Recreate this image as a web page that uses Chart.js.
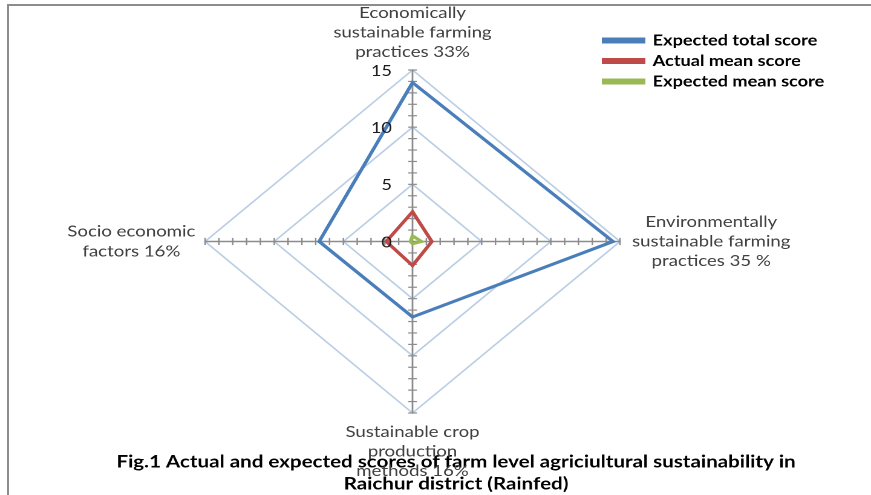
<!DOCTYPE html>
<html>
<head>
<meta charset="utf-8">
<script src="https://cdn.jsdelivr.net/npm/chart.js@4.4.1/dist/chart.umd.min.js"></script>
<style>
  html, body { margin: 0; padding: 0; background: #fff; overflow: hidden; width: 871px; height: 495px; }
  #frame { position: absolute; left: 7px; top: 4px; width: 900px; height: 520px;
           border-top: 2px solid #8c8c8c; border-left: 2px solid #8c8c8c; }
  /* the reference picture is horizontally stretched; reproduce that stretch */
  #stage { position: absolute; left: 0; top: 0; width: 720px; height: 495px;
           transform: scaleX(1.20972); transform-origin: 0 0; }
</style>
</head>
<body>
<div id="frame"></div>
<div id="stage"><canvas id="c"></canvas></div>
<script>
// ---------------- data ----------------
const CATEGORIES = [
  ["Economically", "sustainable farming", "practices 33%"],
  ["Environmentally", "sustainable farming", "practices 35 %"],
  ["Sustainable crop", "production", "methods 16%"],
  ["Socio economic", "factors 16%"]
];
const SERIES_NAMES = ["Expected total score", "Actual mean score", "Expected mean score"];
const EXPECTED_TOTAL = [13.9, 14.5, 6.6, 6.75];
const ACTUAL_MEAN    = [2.6, 1.4, 2.1, 1.9];
const EXPECTED_MEAN  = [0.5, 0.65, 0.2, 0.15];
const TICK_LABELS    = ["0", "5", "10", "15"];
const TITLE_LINES = [
  "Fig.1 Actual and expected scores of farm level agriciultural sustainability in",
  "Raichur district (Rainfed)"
];

// ---------------- layout / style ----------------
const COLORS = ["#4a7ebb", "#be4b48", "#98b954"];
const GEOM = { x: 341, y: 241.5, r: 171.5 };
const MINOR_STEP = 1, TICK_HALF = 3.6;
const LABEL_GAP = { top: 18, right: 10, bottom: 19, left: 8 };
const PL_FONT = "15.4px Lato", PL_LH = 19.6;
const LEGEND_POS = { x: 499, y: 33 };

const decor = {
  id: 'decor',
  afterLayout(chart) {
    const lg = chart.legend;
    if (!lg) return;
    const pad = lg.options.labels.padding;
    const w = lg.right - lg.left, h = lg.bottom - lg.top;
    lg.left = LEGEND_POS.x - pad; lg.right = lg.left + w;
    lg.top = LEGEND_POS.y - pad; lg.bottom = lg.top + h;
  },
  beforeDatasetsDraw(chart) {
    const s = chart.scales.r, ctx = chart.ctx;
    ctx.save();
    ctx.strokeStyle = '#8c8c8c';
    ctx.lineWidth = 1.2;
    const n = chart.data.labels.length;
    for (let i = 0; i < n; i++) {
      const end = s.getPointPosition(i, s.drawingArea);
      const dx = end.x - s.xCenter, dy = end.y - s.yCenter, L = Math.hypot(dx, dy);
      const px = -dy / L * TICK_HALF, py = dx / L * TICK_HALF;
      for (let v = s.min + MINOR_STEP; v <= s.max + 1e-9; v += MINOR_STEP) {
        const p = s.getPointPositionForValue(i, v);
        ctx.beginPath();
        ctx.moveTo(p.x - px, p.y - py);
        ctx.lineTo(p.x + px, p.y + py);
        ctx.stroke();
      }
    }
    ctx.restore();
  },
  afterDatasetsDraw(chart) {
    const s = chart.scales.r, ctx = chart.ctx;
    ctx.save();
    ctx.fillStyle = '#1a1a1a';
    ctx.font = "15px Lato";
    ctx.textAlign = 'right';
    ctx.textBaseline = 'middle';
    s.ticks.forEach((t, k) => {
      const y = s.yCenter - s.getDistanceFromCenterForValue(t.value);
      ctx.fillText(TICK_LABELS[k] ?? String(t.value), s.xCenter - 17, y + 1);
    });
    // category labels
    ctx.font = PL_FONT;
    ctx.fillStyle = '#404040';
    ctx.textAlign = 'center';
    chart.data.labels.forEach((lines, i) => {
      const ang = s.getIndexAngle(i);
      const sn = Math.sin(ang), cs = Math.cos(ang);
      const nL = lines.length;
      const bw = Math.max(...lines.map(l => ctx.measureText(l).width));
      if (Math.abs(sn) < 0.5) {
        if (cs > 0) { // top
          const p = s.getPointPosition(i, s.drawingArea + LABEL_GAP.top);
          lines.forEach((l, k) => ctx.fillText(l, p.x, p.y - (nL - 1 - k) * PL_LH));
        } else { // bottom
          const p = s.getPointPosition(i, s.drawingArea + LABEL_GAP.bottom);
          lines.forEach((l, k) => ctx.fillText(l, p.x, p.y + k * PL_LH));
        }
      } else if (sn > 0) { // right
        const p = s.getPointPosition(i, s.drawingArea + LABEL_GAP.right);
        lines.forEach((l, k) => ctx.fillText(l, p.x + bw / 2, p.y + (k - (nL - 1) / 2) * PL_LH));
      } else { // left
        const p = s.getPointPosition(i, s.drawingArea + LABEL_GAP.left);
        lines.forEach((l, k) => ctx.fillText(l, p.x - bw / 2, p.y + (k - (nL - 1) / 2) * PL_LH));
      }
    });
    ctx.restore();
  }
};

function makeDataset(name, data, color) {
  return {
    label: name, data: data,
    borderColor: color, backgroundColor: color,
    borderWidth: 3, fill: false, pointRadius: 0, pointHoverRadius: 0,
    borderJoinStyle: 'miter', clip: false, tension: 0
  };
}

function build() {
  new Chart(document.getElementById('c'), {
    type: 'radar',
    data: {
      labels: CATEGORIES,
      datasets: [
        makeDataset(SERIES_NAMES[0], EXPECTED_TOTAL, COLORS[0]),
        makeDataset(SERIES_NAMES[1], ACTUAL_MEAN, COLORS[1]),
        makeDataset(SERIES_NAMES[2], EXPECTED_MEAN, COLORS[2])
      ]
    },
    options: {
      responsive: true,
      maintainAspectRatio: false,
      devicePixelRatio: 2,
      animation: false,
      layout: { padding: { left: 34, right: 0, top: 0, bottom: 0 } },
      scales: {
        r: {
          min: 0, max: 15,
          ticks: { stepSize: 5, display: false },
          grid: { color: '#b9cde5', lineWidth: 1.5, circular: false },
          angleLines: { color: '#8c8c8c', lineWidth: 1.4 },
          pointLabels: { display: false },
          afterFit(scale) {
            scale.xCenter = GEOM.x; scale.yCenter = GEOM.y; scale.drawingArea = GEOM.r;
          }
        }
      },
      plugins: {
        legend: {
          position: 'right', align: 'start',
          labels: {
            font: { family: 'Lato', size: 15, weight: 'bold' },
            color: '#000', boxWidth: 33, boxHeight: 3, padding: 5.5
          }
        },
        title: {
          display: true, position: 'bottom', text: TITLE_LINES,
          font: { family: 'Lato', size: 17, weight: 'bold', lineHeight: 1.294 },
          color: '#000', padding: { top: 0, bottom: 0 }
        },
        tooltip: { enabled: false }
      }
    },
    plugins: [decor]
  });
}

Promise.all([
  document.fonts.load("16px Lato"),
  document.fonts.load("bold 15px Lato")
]).then(build, build);
</script>
</body>
</html>
